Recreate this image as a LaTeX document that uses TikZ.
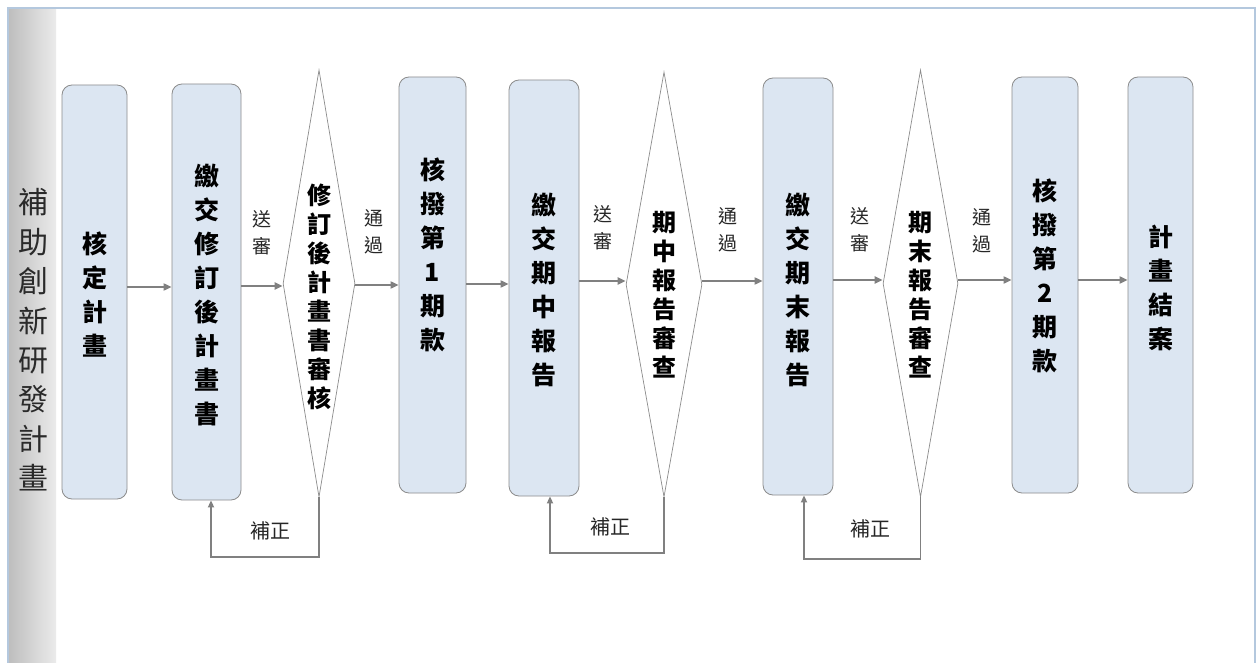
\documentclass[tikz,border=0pt]{standalone}
\usepackage{fontspec}
\newfontfamily\cjk{Noto Sans CJK TC}
\usetikzlibrary{shapes.geometric,arrows.meta}
\definecolor{boxfill}{HTML}{DCE6F2}
\definecolor{boxdraw}{HTML}{8C8C8C}
\definecolor{arrc}{HTML}{808080}
\definecolor{framec}{HTML}{B4C8DE}
\definecolor{barl}{HTML}{BEBEBE}
\definecolor{barr}{HTML}{EBEBEB}
\definecolor{titlec}{HTML}{2A2A2A}
\tikzset{
  stepbox/.style={draw=boxdraw, fill=boxfill, rounded corners=10pt, line width=0.8pt, inner sep=0pt},
  dia/.style={diamond, draw=boxdraw, fill=white, line width=0.7pt, inner sep=0pt, aspect=0.17},
  boxtxt/.style={font=\cjk\bfseries\fontsize{25}{34}\selectfont, align=center, inner sep=0pt},
  diatxt/.style={font=\cjk\bfseries\fontsize{24}{29}\selectfont, align=center, inner sep=0pt},
  lbl/.style={font=\cjk\fontsize{19}{27}\selectfont, align=center, inner sep=0pt, text=black!85},
  fixlbl/.style={font=\cjk\fontsize{20}{22}\selectfont, inner sep=0pt, text=black!85},
  arr/.style={draw=arrc, line width=1.9pt, -{Triangle[length=8pt,width=7pt]}},
  fb/.style={draw=arrc, line width=1.7pt, -{Triangle[length=7pt,width=6pt]}},
}
\begin{document}
\begin{tikzpicture}[x=1pt,y=-1pt]
\useasboundingbox (0,0) rectangle (1258,663);
\fill[white] (0,0) rectangle (1258,663);
% frame and side bar
\shade[left color=barl, right color=barr] (9,10) rectangle (56,663);
\draw[framec, line width=2pt] (7.5,663) -- (7.5,8.5) -- (1255,8.5) -- (1255,663);
\node[font=\cjk\fontsize{30}{39.4}\selectfont, align=center, text=titlec, inner sep=0pt] (title) at (34,340) {補\\助\\創\\新\\研\\發\\計\\畫};
% boxes
\node[stepbox, minimum width=65pt, minimum height=414pt] (b1) at (94.5,292) {};
\node[stepbox, minimum width=69pt, minimum height=416pt] (b2) at (206.5,292) {};
\node[dia, minimum width=72pt, minimum height=427pt] (d1) at (319,283.5) {};
\node[stepbox, minimum width=67pt, minimum height=416pt] (b4) at (432.5,285) {};
\node[stepbox, minimum width=70pt, minimum height=416pt] (b5) at (544,288) {};
\node[dia, minimum width=76pt, minimum height=425pt] (d2) at (664,284.5) {};
\node[stepbox, minimum width=70pt, minimum height=417pt] (b7) at (798,286.5) {};
\node[dia, minimum width=75pt, minimum height=427pt] (d3) at (920.5,283.5) {};
\node[stepbox, minimum width=66pt, minimum height=416pt] (b9) at (1045,285) {};
\node[stepbox, minimum width=65pt, minimum height=416pt] (b10) at (1160.5,285) {};
% texts
\node[boxtxt] (t1) at (94.5,295) {核\\定\\計\\畫};
\node[boxtxt] (t2) at (206.5,295) {繳\\交\\修\\訂\\後\\計\\畫\\書};
\node[diatxt] (t3) at (319,297) {修\\訂\\後\\計\\畫\\書\\審\\核};
\node[boxtxt] (t4) at (432.5,255) {核\\撥\\第\\1\\期\\款};
\node[boxtxt] (t5) at (544,290) {繳\\交\\期\\中\\報\\告};
\node[diatxt] (t6) at (664,295) {期\\中\\報\\告\\審\\查};
\node[boxtxt] (t7) at (798,290) {繳\\交\\期\\末\\報\\告};
\node[diatxt] (t8) at (920.5,295) {期\\末\\報\\告\\審\\查};
\node[boxtxt] (t9) at (1045,276) {核\\撥\\第\\2\\期\\款};
\node[boxtxt] (t10) at (1160.5,288) {計\\畫\\結\\案};
% arrows
\draw[arr] (b1.east |- 0,287) -- (b2.west |- 0,287);
\draw[arr] (b2.east |- 0,286) -- (d1.west |- 0,286);
\draw[arr] (d1.east |- 0,285) -- (b4.west |- 0,285);
\draw[arr] (b4.east |- 0,284) -- (b5.west |- 0,284);
\draw[arr] (b5.east |- 0,281) -- (d2.west |- 0,281);
\draw[arr] (d2.east |- 0,281) -- (b7.west |- 0,281);
\draw[arr] (b7.east |- 0,280) -- (d3.west |- 0,280);
\draw[arr] (d3.east |- 0,280) -- (b9.west |- 0,280);
\draw[arr] (b9.east |- 0,280) -- (b10.west |- 0,280);
% arrow labels
\node[lbl] (s1) at (262,233) {送\\審};
\node[lbl] (p1) at (374,232) {通\\過};
\node[lbl] (s2) at (603,228) {送\\審};
\node[lbl] (p2) at (728,230) {通\\過};
\node[lbl] (s3) at (860,230) {送\\審};
\node[lbl] (p3) at (982,231) {通\\過};
% feedback loops
\coordinate (f1) at (211,557);
\coordinate (f2) at (550,553);
\coordinate (f3) at (804,559);
\draw[fb] (d1.south) |- (f1) -- (f1 |- b2.south);
\draw[fb] (d2.south) |- (f2) -- (f2 |- b5.south);
\draw[fb] (d3.south) |- (f3) -- (f3 |- b7.south);
\node[fixlbl] (r1) at (270,531) {補正};
\node[fixlbl] (r2) at (610,527) {補正};
\node[fixlbl] (r3) at (870,529) {補正};
\end{tikzpicture}
\end{document}
